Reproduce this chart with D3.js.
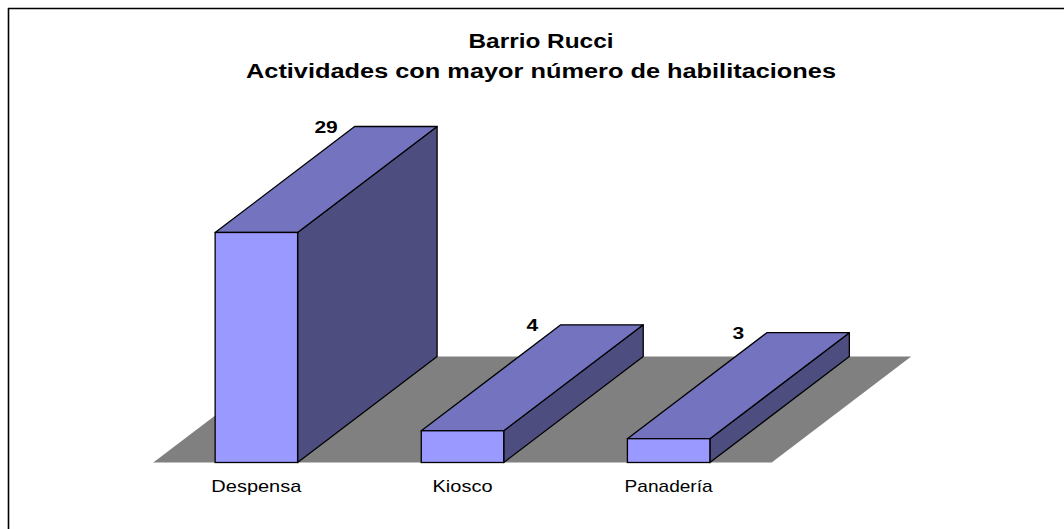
<!DOCTYPE html>
<html>
<head>
<meta charset="utf-8">
<script src="https://cdn.jsdelivr.net/npm/d3@7"></script>
<style>
html,body{margin:0;padding:0;background:#fff;}
svg{display:block;}
text{font-family:"Liberation Sans",Arial,sans-serif;}
</style>
</head>
<body>
<svg id="chart" width="1064" height="529"></svg>
<script>
const categories = ["Despensa", "Kiosco", "Panadería"];
const values = [29, 4, 3];
const titleLines = ["Barrio Rucci", "Actividades con mayor número de habilitaciones"];
const yDomain = [0, 35];

const svg = d3.select("#chart");
const W = 1064, H = 529;

// layout
const floorLeft = 153.3, floorRight = 771.7, yBase = 462.5;
const depthX = 139.5, depthY = -106;

const x = d3.scaleBand().domain(categories).range([floorLeft, floorRight])
  .paddingInner(0.6).paddingOuter(0.3);
const y = d3.scaleLinear().domain(yDomain).range([yBase, yBase - 35 * 7.931]);

// border
svg.append("line").attr("x1", 8).attr("x2", W).attr("y1", 8.5).attr("y2", 8.5)
  .attr("stroke", "#000").attr("stroke-width", 1.6);
svg.append("line").attr("x1", 8.5).attr("x2", 8.5).attr("y1", 8).attr("y2", H)
  .attr("stroke", "#000").attr("stroke-width", 1.6);

// title
const titleX = 541;
svg.append("text").attr("x", titleX).attr("y", 47.7).attr("text-anchor", "middle")
  .attr("font-size", 20).attr("font-weight", "bold").attr("textLength", 145)
  .attr("lengthAdjust", "spacingAndGlyphs").text(titleLines[0]);
svg.append("text").attr("x", titleX).attr("y", 78).attr("text-anchor", "middle")
  .attr("font-size", 20).attr("font-weight", "bold").attr("textLength", 590)
  .attr("lengthAdjust", "spacingAndGlyphs").text(titleLines[1]);

// floor
const floorPts = [[floorLeft, yBase], [floorRight, yBase],
  [floorRight + depthX, yBase + depthY], [floorLeft + depthX, yBase + depthY]];
svg.append("polygon").attr("points", floorPts.map(p => p.join(",")).join(" "))
  .attr("fill", "#808080");

const data = categories.map((c, i) => ({ c, v: values[i] }));
const bw = x.bandwidth();
const stroke = "#000", sw = 1.3;

const g = svg.append("g");
data.forEach(d => {
  const bx = x(d.c), yt = y(d.v);
  const bar = g.append("g");
  // side
  bar.append("polygon").attr("points", [
    [bx + bw, yt], [bx + bw + depthX, yt + depthY], [bx + bw + depthX, yBase + depthY], [bx + bw, yBase]
  ].map(p => p.join(",")).join(" "))
    .attr("fill", "#4D4D80").attr("stroke", stroke).attr("stroke-width", sw).attr("stroke-linejoin", "round");
  // top
  bar.append("polygon").attr("points", [
    [bx, yt], [bx + bw, yt], [bx + bw + depthX, yt + depthY], [bx + depthX, yt + depthY]
  ].map(p => p.join(",")).join(" "))
    .attr("fill", "#7373BF").attr("stroke", stroke).attr("stroke-width", sw).attr("stroke-linejoin", "round");
  // front
  bar.append("rect").attr("x", bx).attr("y", yt).attr("width", bw).attr("height", yBase - yt)
    .attr("fill", "#9999FF").attr("stroke", stroke).attr("stroke-width", sw);
  // value label
  bar.append("text").attr("x", bx + bw / 2 + depthX / 2).attr("y", yt + depthY + 6)
    .attr("text-anchor", "middle").attr("font-size", 17).attr("font-weight", "bold")
    .attr("textLength", 23).attr("lengthAdjust", "spacingAndGlyphs")
    .attr("textLength", String(d.v).length * 11.7)
    .text(d.v);
});

// category labels
const catLen = { "Despensa": 90, "Kiosco": 60, "Panadería": 88 };
svg.append("g").selectAll("text").data(categories).join("text")
  .attr("x", d => x(d) + bw / 2)
  .attr("y", 492.3)
  .attr("text-anchor", "middle")
  .attr("font-size", 17)
  .attr("textLength", d => catLen[d])
  .attr("lengthAdjust", "spacingAndGlyphs")
  .text(d => d);
</script>
</body>
</html>
